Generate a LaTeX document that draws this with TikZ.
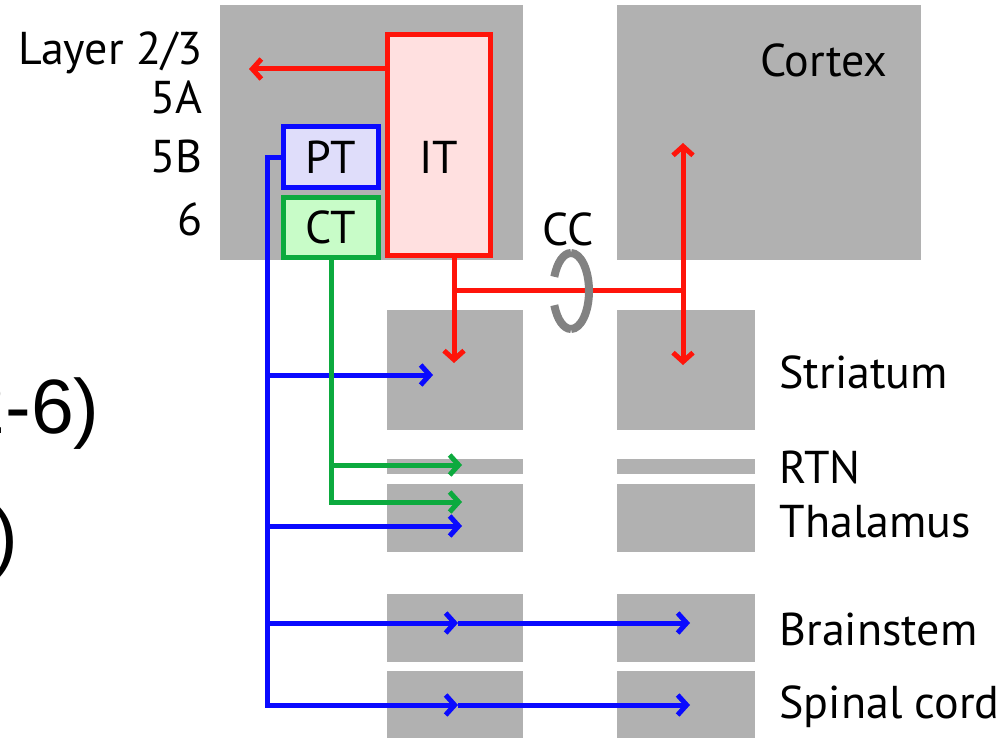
\documentclass[tikz,border=0pt]{standalone}
\usepackage{fontspec}
\setmainfont{PT Sans}
\newfontfamily\cutfont{Liberation Sans}
\usepackage{tikz}
\usetikzlibrary{positioning, arrows.meta, fit}
\definecolor{cGray}{RGB}{177,177,177}
\definecolor{cRing}{RGB}{130,130,130}
\definecolor{cRed}{RGB}{255,20,10}
\definecolor{cBlue}{RGB}{10,10,255}
\definecolor{cGreen}{RGB}{12,170,62}
\definecolor{cPT}{RGB}{223,221,250}
\definecolor{cCT}{RGB}{200,252,200}
\definecolor{cIT}{RGB}{255,224,224}

\begin{document}
\begin{tikzpicture}[x=0.5pt, y=-0.5pt, >={Straight Barb[length=4.5pt, width=10pt]}, line width=2.5pt,
    region/.style={fill=cGray, inner sep=0pt},
    cell/.style={line width=2.5pt, inner sep=0pt},
    lbl/.style={inner sep=0pt, font=\fontsize{23}{27}\selectfont},
    cut/.style={inner sep=0pt, font=\cutfont\fontsize{38.5}{44}\selectfont},
    ring/.style={draw=cRing, line width=4pt}]
    \useasboundingbox (0,0) rectangle (1006,738);

    % Regions
    \node[region, fit={(220,5) (523,260)}] (ctxL) {};
    \node[region, fit={(617,5) (921,260)}] (ctxR) {};
    \foreach \nm/\ya/\yb in {str/310/430, rtn/459/474, thl/484/552, bst/594/662, spc/671/745} {
        \node[region, fit={(387,\ya) (523,\yb)}] (\nm L) {};
        \node[region, fit={(617,\ya) (755,\yb)}] (\nm R) {};
    }

    % Cells
    \node[cell, draw=cBlue, fill=cPT, fit={(283.5,126.5) (378.5,187.5)}] (PT) {};
    \node[cell, draw=cGreen, fill=cCT, fit={(283.5,197.5) (378.5,257.5)}] (CT) {};
    \node[cell, draw=cRed, fill=cIT, fit={(387.5,34.5) (490.5,255.5)}] (IT) {};
    \node[lbl] (PTtxt) at (PT.center) {PT};
    \node[lbl] (CTtxt) at (CT.center) {CT};
    \node[lbl] (ITtxt) at (IT |- PT) {IT};

    % Labels
    \node[lbl, anchor=base east] (l23) at (205,65) {Layer 2/3};
    \node[lbl, anchor=base east] (l5A) at (205,113) {5A};
    \node[lbl, anchor=base east] (l5B) at (205,172) {5B};
    \node[lbl, anchor=base east] (l6) at (205,235) {6};
    \node[lbl, anchor=base east] (lCtx) at (890,77) {Cortex};
    \node[lbl, anchor=base west] (lStr) at (777,388) {Striatum};
    \node[lbl, anchor=base west] (lRtn) at (777,483) {RTN};
    \node[lbl, anchor=base west] (lThl) at (777,537) {Thalamus};
    \node[lbl, anchor=base west] (lBst) at (777,645) {Brainstem};
    \node[lbl, anchor=base west] (lSpc) at (777,718) {Spinal cord};
    \node[lbl, anchor=base] (lCC) at (568,245) {CC};
    \node[cut, anchor=base east] (cutA) at (102,433) {2-6)};
    \node[cut, anchor=base east] (cutB) at (21,562) {)};

    % Arrow ends
    \coordinate (trunk) at (267,705);
    \coordinate (tStr) at (433,375);
    \coordinate (tThl) at (462,526);
    \coordinate (tBst) at (458,623);
    \coordinate (eBst) at (690,623);
    \coordinate (tSpc) at (458,705);
    \coordinate (eSpc) at (690,705);
    \coordinate (tRtn) at (462,465);
    \coordinate (tThlG) at (462,502);
    \coordinate (tL23) at (249,69);
    \coordinate (rDn) at (454,363);
    \coordinate (ccJ) at (683,290);
    \coordinate (tCtx) at (683,143);
    \coordinate (tStrR) at (683,365);
    \coordinate (ccC) at (571,291);

    % PT projections
    \draw[cBlue, ->] (PT.west) -| (trunk) -- (tSpc);
    \draw[cBlue, ->] (tSpc) -- (eSpc);
    \draw[cBlue, ->] (trunk |- tStr) -- (tStr);
    \draw[cBlue, ->] (trunk |- tThl) -- (tThl);
    \draw[cBlue, ->] (trunk |- tBst) -- (tBst);
    \draw[cBlue, ->] (tBst) -- (eBst);

    % CT projections
    \draw[cGreen, ->] (CT.south) |- (tThlG);
    \draw[cGreen, ->] (CT.south |- tRtn) -- (tRtn);

    % IT projections
    \draw[ring] ([shift={(90:9pt and 19pt)}]ccC) arc[start angle=90, end angle=158, x radius=9pt, y radius=19pt];
    \draw[ring] ([shift={(202:9pt and 19pt)}]ccC) arc[start angle=202, end angle=270, x radius=9pt, y radius=19pt];
    \draw[cRed, ->] (IT.west |- tL23) -- (tL23);
    \draw[cRed, ->] (rDn |- IT.south) -- (rDn);
    \draw[cRed] (rDn |- ccJ) -- (ccJ);
    \draw[cRed, <->] (tCtx) -- (tStrR);
    \draw[ring] ([shift={(-90:9pt and 19pt)}]ccC) arc[start angle=-90, end angle=90, x radius=9pt, y radius=19pt];
\end{tikzpicture}
\end{document}
